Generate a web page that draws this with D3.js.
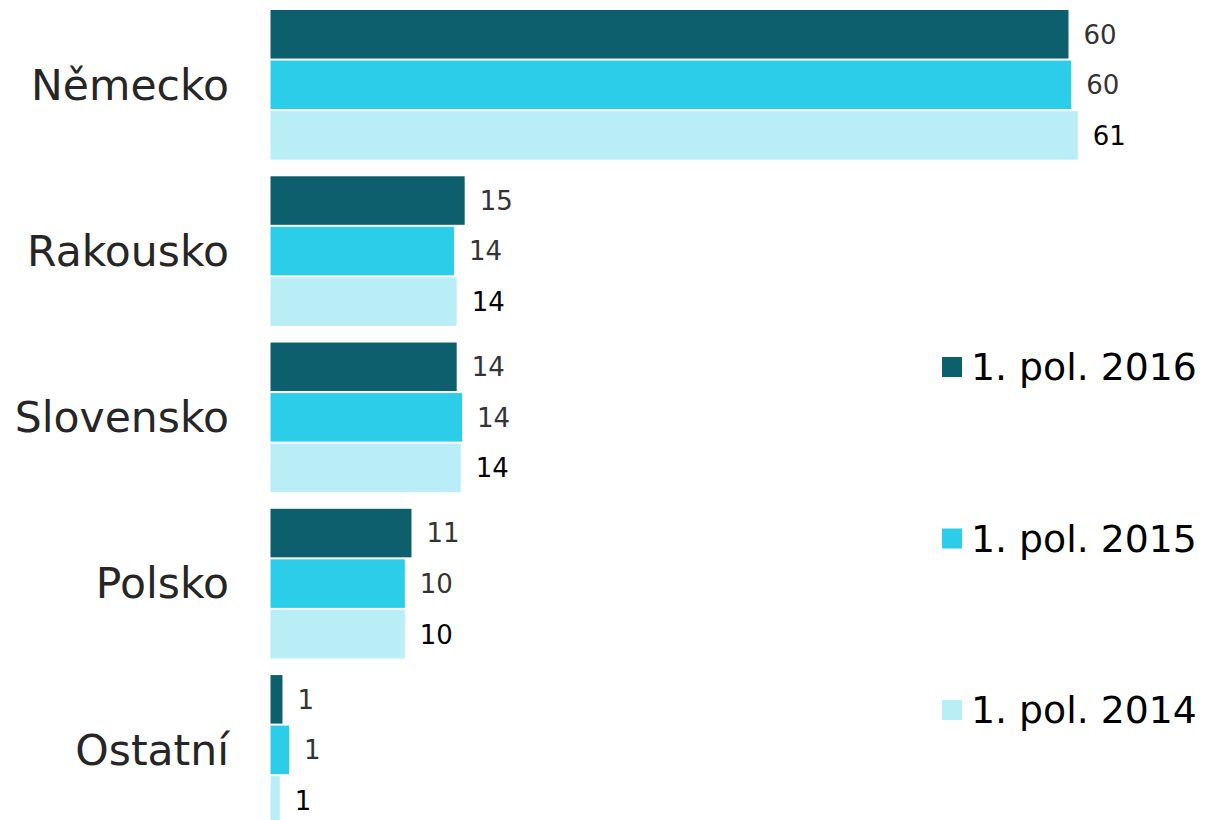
<!DOCTYPE html>
<html>
<head>
<meta charset="utf-8">
<script src="https://cdn.jsdelivr.net/npm/d3@7"></script>
<style>
  body { margin: 0; background: #fff; }
  text { font-family: "DejaVu Sans", Verdana, sans-serif; }
</style>
</head>
<body>
<script>
// data (share in %)
var categories = ["Německo", "Rakousko", "Slovensko", "Polsko", "Ostatní"];
var series = ["1. pol. 2016", "1. pol. 2015", "1. pol. 2014"];
var values2016 = [60.0, 14.6, 14.0, 10.6, 0.9];
var values2015 = [60.2, 13.8, 14.4, 10.1, 1.4];
var values2014 = [60.7, 14.0, 14.3, 10.1, 0.7];
var colors = ["#0e5f6e", "#2bcde8", "#b9eef7"];
var labelColors = ["#333333", "#333333", "#000000"];

var width = 1205, height = 820;
var seriesValues = [values2016, values2015, values2014];

var svg = d3.select("body").append("svg")
    .attr("width", width)
    .attr("height", height);

// scales
var y0 = d3.scaleBand().domain(categories).range([1.7, 833]).paddingInner(0.1).paddingOuter(0.05);
var y1 = d3.scaleBand().domain(series).range([0, y0.bandwidth()]).paddingInner(0.04);
var x = d3.scaleLinear().domain([0, 60]).range([270.5, 270.5 + 798]);

var rows = [];
categories.forEach(function(c, i) {
  series.forEach(function(s, j) {
    rows.push({cat: c, ser: s, idx: j, value: seriesValues[j][i]});
  });
});

// bars
svg.selectAll("rect.bar")
    .data(rows)
  .enter().append("rect")
    .attr("class", "bar")
    .attr("x", x(0))
    .attr("y", function(d) { return y0(d.cat) + y1(d.ser); })
    .attr("width", function(d) { return x(d.value) - x(0); })
    .attr("height", y1.bandwidth())
    .attr("fill", function(d) { return colors[d.idx]; });

// value labels
svg.selectAll("text.val")
    .data(rows)
  .enter().append("text")
    .attr("class", "val")
    .attr("x", function(d) { return x(d.value) + 15; })
    .attr("y", function(d) { return y0(d.cat) + y1(d.ser) + y1.bandwidth() / 2; })
    .attr("dy", "0.36em")
    .attr("font-size", 26)
    .attr("fill", function(d) { return labelColors[d.idx]; })
    .text(function(d) { return Math.round(d.value); });

// category axis labels
svg.append("g")
    .attr("transform", "translate(229,0)")
    .call(d3.axisLeft(y0).tickSize(0).tickPadding(0))
    .call(function(g) { g.select(".domain").remove(); })
    .selectAll("text")
    .attr("font-size", 42.5)
    .attr("font-family", "DejaVu Sans, Verdana, sans-serif")
    .attr("fill", "#262626")
    .attr("dy", "0.35em");

// legend
var legend = svg.selectAll("g.legend")
    .data(series)
  .enter().append("g")
    .attr("class", "legend")
    .attr("transform", function(d, i) { return "translate(942," + (367 + i * 171.5) + ")"; });

legend.append("rect")
    .attr("x", 0)
    .attr("y", -10)
    .attr("width", 20)
    .attr("height", 20)
    .attr("fill", function(d, i) { return colors[i]; });

legend.append("text")
    .attr("x", 29)
    .attr("y", 0)
    .attr("dy", "0.35em")
    .attr("font-size", 37.8)
    .attr("fill", "#000")
    .text(function(d) { return d; });
</script>
</body>
</html>
